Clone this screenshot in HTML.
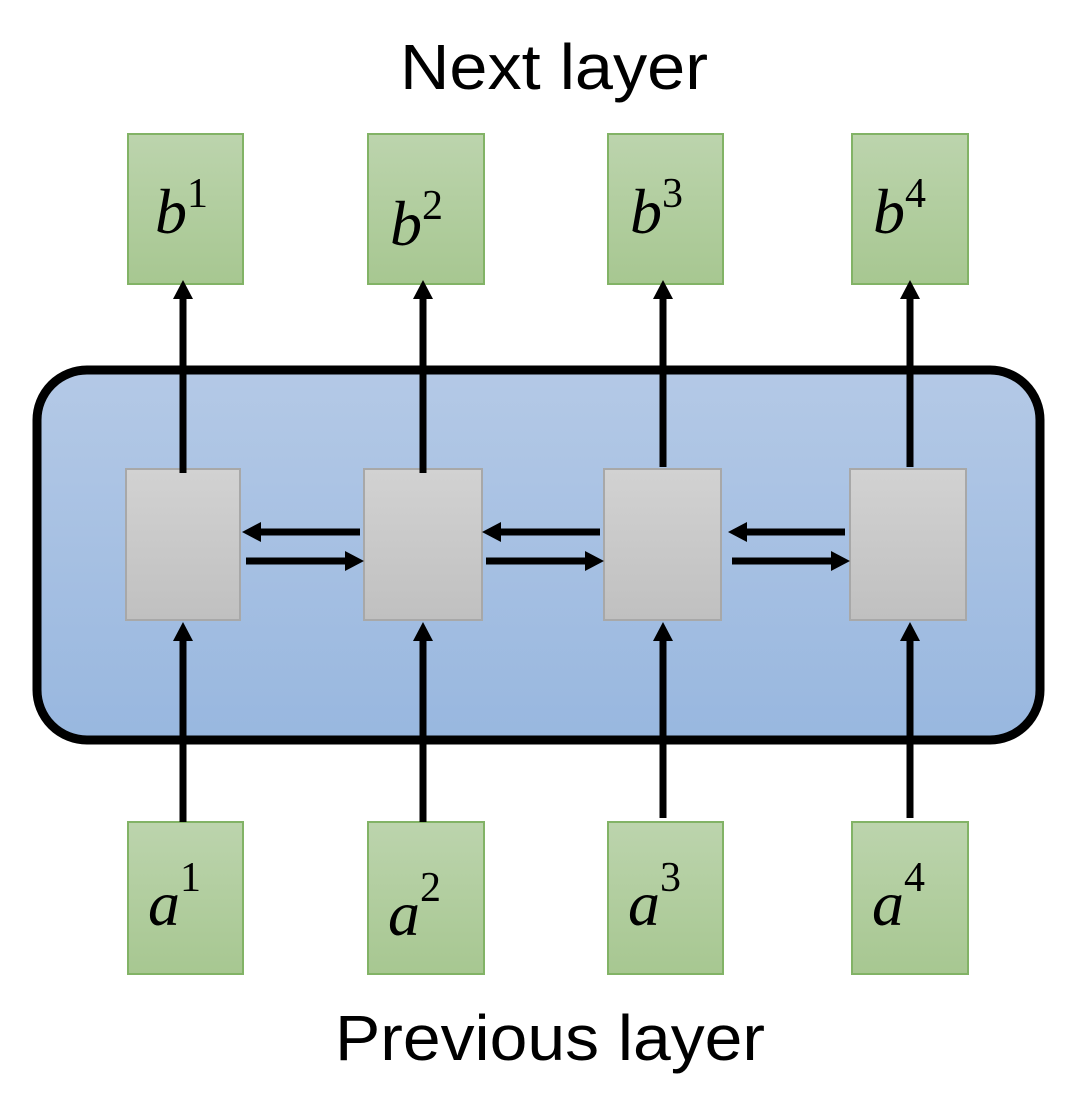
<!DOCTYPE html>
<html><head><meta charset="utf-8"><style>html,body{margin:0;padding:0;background:#fff}svg{display:block}</style></head><body>
<svg width="1080" height="1097" viewBox="0 0 1080 1097" xmlns="http://www.w3.org/2000/svg">
<defs>
<linearGradient id="g" x1="0" y1="0" x2="0" y2="1"><stop offset="0" stop-color="#bcd4ad"/><stop offset="1" stop-color="#a7c791"/></linearGradient>
<linearGradient id="bl" x1="0" y1="0" x2="0" y2="1"><stop offset="0" stop-color="#b4c9e6"/><stop offset="1" stop-color="#98b7df"/></linearGradient>
<linearGradient id="gr" x1="0" y1="0" x2="0" y2="1"><stop offset="0" stop-color="#d2d2d2"/><stop offset="1" stop-color="#c0c0c0"/></linearGradient>
</defs>
<text x="554" y="89" font-family="Liberation Sans, sans-serif" font-size="64" text-anchor="middle" textLength="308" lengthAdjust="spacingAndGlyphs">Next layer</text>
<text x="550" y="1060" font-family="Liberation Sans, sans-serif" font-size="64" text-anchor="middle" textLength="430" lengthAdjust="spacingAndGlyphs">Previous layer</text>
<rect x="37" y="370" width="1003" height="370" rx="50" fill="url(#bl)" stroke="#000" stroke-width="9"/>
<g fill="url(#g)" stroke="#82b366" stroke-width="2">
<rect x="128" y="134" width="115" height="150"/><rect x="368" y="134" width="116" height="150"/><rect x="608" y="134" width="115" height="150"/><rect x="852" y="134" width="116" height="150"/>
<rect x="128" y="822" width="115" height="152"/><rect x="368" y="822" width="116" height="152"/><rect x="608" y="822" width="115" height="152"/><rect x="852" y="822" width="116" height="152"/>
</g>
<g fill="url(#gr)" stroke="#a8a8a8" stroke-width="2">
<rect x="126" y="469" width="114" height="151"/><rect x="364" y="469" width="118" height="151"/><rect x="604" y="469" width="117" height="151"/><rect x="850" y="469" width="116" height="151"/>
</g>
<g stroke="#000" stroke-width="7">
<line x1="183" y1="473" x2="183" y2="296"/><line x1="423" y1="473" x2="423" y2="296"/><line x1="663" y1="467" x2="663" y2="296"/><line x1="910" y1="467" x2="910" y2="296"/>
<line x1="183" y1="822" x2="183" y2="632"/><line x1="423" y1="822" x2="423" y2="632"/><line x1="663" y1="818" x2="663" y2="632"/><line x1="910" y1="818" x2="910" y2="632"/>
<line x1="360" y1="532" x2="255" y2="532"/><line x1="600" y1="532" x2="496" y2="532"/><line x1="845" y1="532" x2="740" y2="532"/>
<line x1="246" y1="561" x2="350" y2="561"/><line x1="486" y1="561" x2="590" y2="561"/><line x1="732" y1="561" x2="836" y2="561"/>
</g>
<g fill="#000">
<polygon points="183,280 173,299 193,299"/><polygon points="423,280 413,299 433,299"/><polygon points="663,280 653,299 673,299"/><polygon points="910,280 900,299 920,299"/>
<polygon points="183,622 173,641 193,641"/><polygon points="423,622 413,641 433,641"/><polygon points="663,622 653,641 673,641"/><polygon points="910,622 900,641 920,641"/>
<polygon points="242,532 261,522 261,542"/><polygon points="482,532 501,522 501,542"/><polygon points="728,532 747,522 747,542"/>
<polygon points="364,561 345,551 345,571"/><polygon points="604,561 585,551 585,571"/><polygon points="850,561 831,551 831,571"/>
</g>
<g font-family="Liberation Serif, serif" font-size="64">
<text x="155" y="233"><tspan font-style="italic">b</tspan><tspan font-size="42" dy="-26">1</tspan></text>
<text x="390" y="245"><tspan font-style="italic">b</tspan><tspan font-size="42" dy="-26">2</tspan></text>
<text x="630" y="233"><tspan font-style="italic">b</tspan><tspan font-size="42" dy="-26">3</tspan></text>
<text x="873" y="233"><tspan font-style="italic">b</tspan><tspan font-size="42" dy="-26">4</tspan></text>
<text x="148" y="925"><tspan font-style="italic">a</tspan><tspan font-size="42" dy="-34">1</tspan></text>
<text x="388" y="935"><tspan font-style="italic">a</tspan><tspan font-size="42" dy="-34">2</tspan></text>
<text x="628" y="925"><tspan font-style="italic">a</tspan><tspan font-size="42" dy="-34">3</tspan></text>
<text x="872" y="925"><tspan font-style="italic">a</tspan><tspan font-size="42" dy="-34">4</tspan></text>
</g>
</svg>
</body></html>
